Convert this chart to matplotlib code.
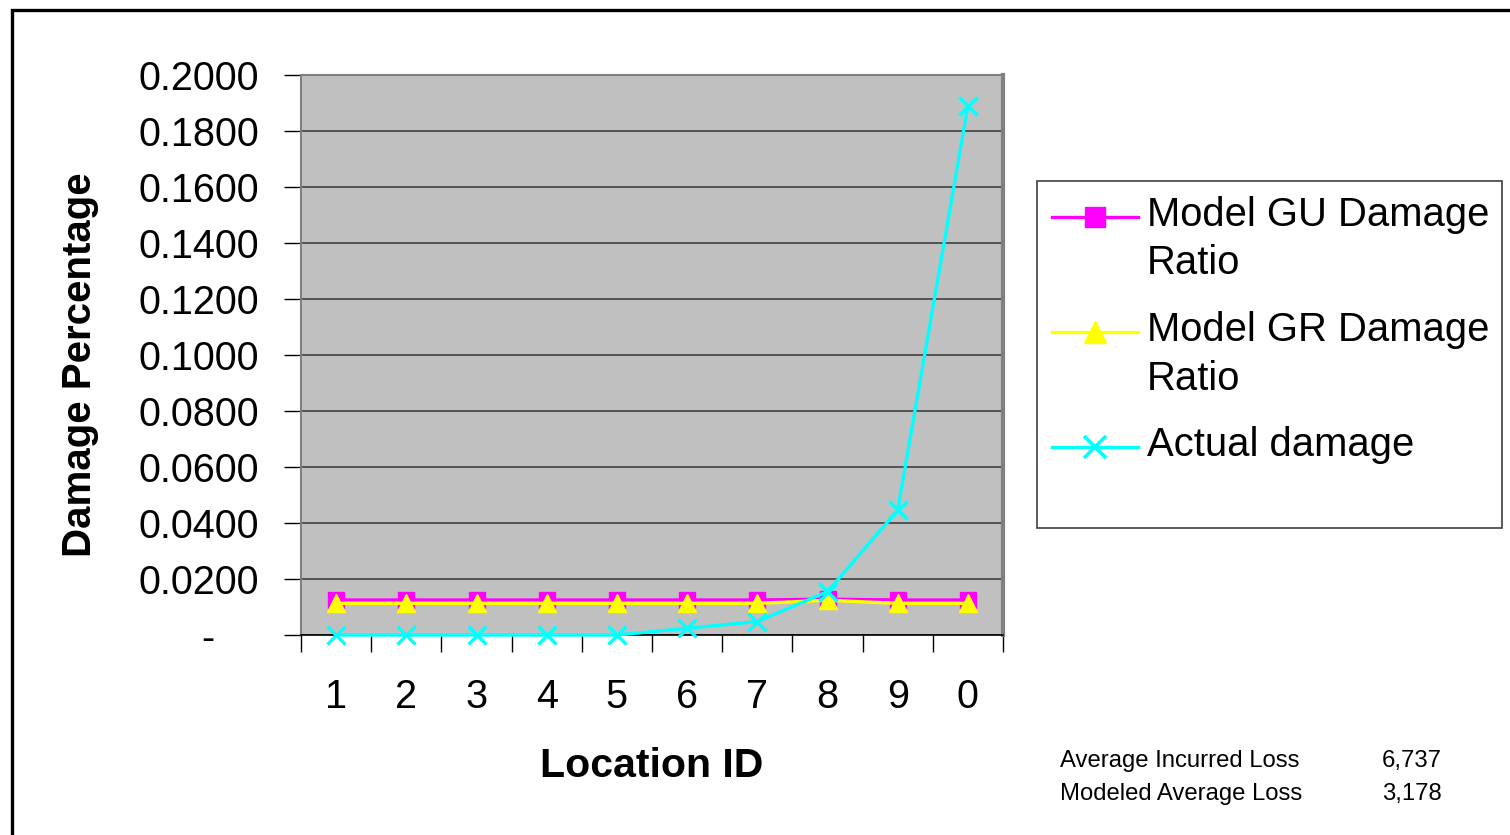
import matplotlib
matplotlib.use("Agg")
import matplotlib.pyplot as plt
from matplotlib.patches import Rectangle
from matplotlib.lines import Line2D
from matplotlib.ticker import FixedLocator, FuncFormatter

plt.rcParams['font.family'] = ['Liberation Sans', 'DejaVu Sans']

locations = ['1', '2', '3', '4', '5', '6', '7', '8', '9', '0']
gu_ratio = [0.0125, 0.0125, 0.0125, 0.0125, 0.0125, 0.0125, 0.0125, 0.0128, 0.0125, 0.0125]
gr_ratio = [0.0113, 0.0113, 0.0113, 0.0113, 0.0113, 0.0113, 0.0113, 0.0124, 0.0113, 0.0113]
actual = [0.0, 0.0, 0.0, 0.0, 0.0, 0.0024, 0.0048, 0.0155, 0.0446, 0.189]
series_names = ['Model GU Damage\nRatio', 'Model GR Damage\nRatio', 'Actual damage']
y_ticks = [0.0, 0.02, 0.04, 0.06, 0.08, 0.10, 0.12, 0.14, 0.16, 0.18, 0.20]
summary_labels = ['Average Incurred Loss', 'Modeled Average Loss']
summary_values = ['6,737', '3,178']

W, H = 1510, 835
fig = plt.figure(figsize=(W / 100, H / 100), dpi=100)

def fx(px):
    return px / W

def fy(py):
    return 1 - py / H

# outer frame
fig.add_artist(Rectangle((fx(12), fy(900)), fx(1600), fy(10) - fy(900),
                         transform=fig.transFigure, fill=False,
                         edgecolor='black', linewidth=2.4, zorder=0))

ax = fig.add_axes([fx(301), fy(635), fx(1003) - fx(301), fy(75) - fy(635)])
ax.set_facecolor('#C0C0C0')
x = list(range(len(locations)))

colors = ['#FF00FF', '#FFFF00', '#00FFFF']
ax.plot(x, gu_ratio, color=colors[0], lw=2.4, marker='s', ms=12,
        mec=colors[0], mfc=colors[0], zorder=3, clip_on=False)
ax.plot(x, gr_ratio, color=colors[1], lw=2.4, marker='^', ms=13,
        mec=colors[1], mfc=colors[1], zorder=4, clip_on=False)
ax.plot(x, actual, color=colors[2], lw=2.4, marker='x', ms=13, mew=2.4,
        mec=colors[2], zorder=5, clip_on=False)

ax.set_xlim(-0.5, len(locations) - 0.5)
ax.set_ylim(0, 0.2)
ax.yaxis.set_major_locator(FixedLocator(y_ticks))
ax.yaxis.set_major_formatter(FuncFormatter(lambda v, p: '-    ' if abs(v) < 1e-9 else f'{v:.4f}'))
ax.grid(axis='y', color='#404040', lw=1.2)
ax.set_axisbelow(True)

ax.set_xticks(x)
ax.set_xticklabels(locations)
ax.set_xticks([i - 0.5 for i in range(len(locations) + 1)], minor=True)
ax.tick_params(axis='x', which='major', length=0, pad=31, labelsize=28.5)
ax.tick_params(axis='x', which='minor', length=12, width=1, color='black', direction='out')
ax.tick_params(axis='y', which='major', length=12, width=1, pad=18, labelsize=28.5, direction='out')

for s in ['top', 'right', 'left']:
    ax.spines[s].set_color('#808080')
    ax.spines[s].set_linewidth(1.5)
ax.spines['right'].set_linewidth(3)
ax.spines['bottom'].set_color('black')
ax.spines['bottom'].set_linewidth(1.2)

fig.text(fx(80), fy(365), 'Damage Percentage', rotation=90, ha='center', va='center',
         fontsize=29, fontweight='bold')
fig.text(fx(652), fy(766), 'Location ID', ha='center', va='center',
         fontsize=29.5, fontweight='bold')

# legend box
fig.add_artist(Rectangle((fx(1037), fy(528)), fx(1502) - fx(1037), fy(181) - fy(528),
                         transform=fig.transFigure, facecolor='white',
                         edgecolor='#404040', linewidth=1.2, zorder=1))
markers = [('s', 15, None), ('^', 16, None), ('x', 16, 2.6)]
entry_y = [217, 332, 447]
for name, col, (m, ms, mew), yy in zip(series_names, colors, markers, entry_y):
    ln = Line2D([fx(1052), fx(1138)], [fy(yy), fy(yy)], transform=fig.transFigure,
                color=col, lw=2.4, zorder=2)
    fig.add_artist(ln)
    mk = Line2D([fx(1095)], [fy(yy)], transform=fig.transFigure, marker=m, ms=ms,
                color=col, mec=col, mfc=col, mew=mew if mew else 1, lw=0, zorder=3)
    fig.add_artist(mk)
    fig.text(fx(1147), fy(yy - 21), name, ha='left', va='top', fontsize=28.8,
             linespacing=1.35, zorder=4)

for i, (lab, val) in enumerate(zip(summary_labels, summary_values)):
    yy = 761 + i * 33
    fig.text(fx(1060), fy(yy), lab, ha='left', va='center', fontsize=17.2)
    fig.text(fx(1442), fy(yy), val, ha='right', va='center', fontsize=17.2)

fig.savefig('out.png', dpi=100)
